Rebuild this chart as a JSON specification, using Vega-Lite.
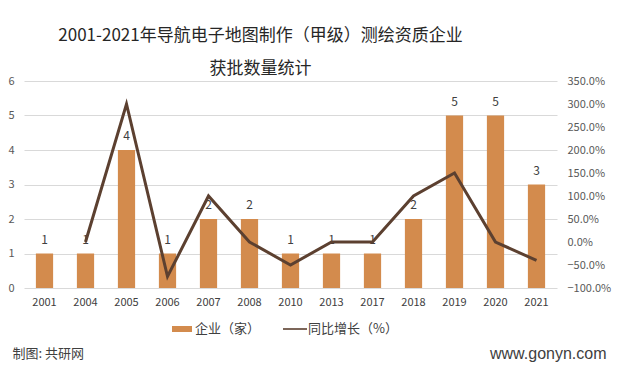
{
  "$schema": "https://vega.github.io/schema/vega-lite/v6.json",
  "autosize": "none",
  "width": 533,
  "height": 207,
  "padding": {"left": 24, "top": 81, "right": 60, "bottom": 87},
  "background": "white",
  "title": {
    "text": ["2001-2021年导航电子地图制作（甲级）测绘资质企业", "获批数量统计"],
    "font": "Noto Sans CJK SC",
    "fontSize": 17,
    "fontWeight": "normal",
    "color": "#262626",
    "lineHeight": 33,
    "anchor": "middle",
    "dx": -30,
    "offset": -3
  },
  "data": {
    "values": [
      {"year": "2001", "count": 1, "growth": null},
      {"year": "2004", "count": 1, "growth": 0},
      {"year": "2005", "count": 4, "growth": 3.0},
      {"year": "2006", "count": 1, "growth": -0.75},
      {"year": "2007", "count": 2, "growth": 1.0},
      {"year": "2008", "count": 2, "growth": 0},
      {"year": "2010", "count": 1, "growth": -0.5},
      {"year": "2013", "count": 1, "growth": 0},
      {"year": "2017", "count": 1, "growth": 0},
      {"year": "2018", "count": 2, "growth": 1.0},
      {"year": "2019", "count": 5, "growth": 1.5},
      {"year": "2020", "count": 5, "growth": 0},
      {"year": "2021", "count": 3, "growth": -0.4}
    ]
  },
  "encoding": {
    "x": {
      "field": "year",
      "type": "ordinal",
      "sort": null,
      "scale": {"paddingInner": 0.58, "paddingOuter": 0.29},
      "axis": {
        "labelAngle": 0,
        "domain": false,
        "ticks": false,
        "labelPadding": 8,
        "labelFont": "Noto Sans CJK SC",
        "labelFontSize": 11,
        "labelColor": "#404040",
        "title": "制图: 共研网",
        "titleFont": "Noto Sans CJK SC",
        "titleFontSize": 13,
        "titleFontWeight": "normal",
        "titleColor": "#404040",
        "titleX": -12,
        "titleY": 65,
        "titleAlign": "left",
        "titleBaseline": "middle",
        "titleAnchor": "start"
      }
    }
  },
  "layer": [
    {
      "encoding": {
        "y": {
          "field": "count",
          "type": "quantitative",
          "scale": {"domain": [0, 6]},
          "axis": {
            "values": [0, 1, 2, 3, 4, 5, 6],
            "tickCount": 7,
            "labelOverlap": false,
            "grid": true,
            "gridColor": "#d9d9d9",
            "domain": false,
            "ticks": false,
            "labelPadding": 10,
            "labelFont": "Noto Sans CJK SC",
            "labelFontSize": 11,
            "labelColor": "#595959",
            "title": null
          }
        }
      },
      "layer": [
        {
          "mark": {"type": "bar"},
          "encoding": {
            "color": {
              "datum": "企业（家）",
              "type": "nominal",
              "scale": {"domain": ["企业（家）", "同比增长（%）"], "range": ["#D38B4D", "#5C4030"]},
              "legend": {
                "title": null,
                "orient": "none",
                "legendX": 148,
                "legendY": 238,
                "direction": "horizontal",
                "labelFont": "Noto Sans CJK SC",
                "labelFontSize": 13,
                "labelColor": "#404040",
                "symbolSize": 400,
                "columnPadding": 22,
                "labelOffset": 3,
                "encode": {
                  "symbols": {
                    "update": {
                      "shape": {"signal": "datum.value === '企业（家）' ? 'M-1,-0.3H1V0.3H-1Z' : 'M-1.2,-0.08H1.2V0.08H-1.2Z'"},
                      "strokeWidth": {"value": 0}
                    }
                  }
                }
              }
            }
          }
        },
        {
          "mark": {"type": "text", "baseline": "bottom", "dy": -7, "font": "Noto Sans CJK SC", "fontSize": 12, "color": "#404040"},
          "encoding": {
            "text": {"field": "count", "type": "quantitative"}
          }
        }
      ]
    },
    {
      "transform": [{"filter": "datum.growth != null"}],
      "mark": {"type": "line", "strokeWidth": 3},
      "encoding": {
        "y": {
          "field": "growth",
          "type": "quantitative",
          "scale": {"domain": [-1, 3.5]},
          "axis": {
            "orient": "right",
            "values": [-1, -0.5, 0, 0.5, 1, 1.5, 2, 2.5, 3, 3.5],
            "labelOverlap": false,
            "format": ".1%",
            "grid": false,
            "domain": false,
            "ticks": false,
            "labelPadding": 10,
            "labelFont": "Noto Sans CJK SC",
            "labelFontSize": 11,
            "labelColor": "#595959",
            "title": "www.gonyn.com",
            "titleFont": "Liberation Sans",
            "titleFontSize": 16,
            "titleFontWeight": "normal",
            "titleColor": "#404040",
            "titleAngle": 0,
            "titleX": 49,
            "titleY": 272,
            "titleAlign": "right",
            "titleBaseline": "middle"
          }
        },
        "color": {"datum": "同比增长（%）", "type": "nominal"}
      }
    }
  ],
  "resolve": {"scale": {"y": "independent"}},
  "config": {"view": {"stroke": null}}
}
